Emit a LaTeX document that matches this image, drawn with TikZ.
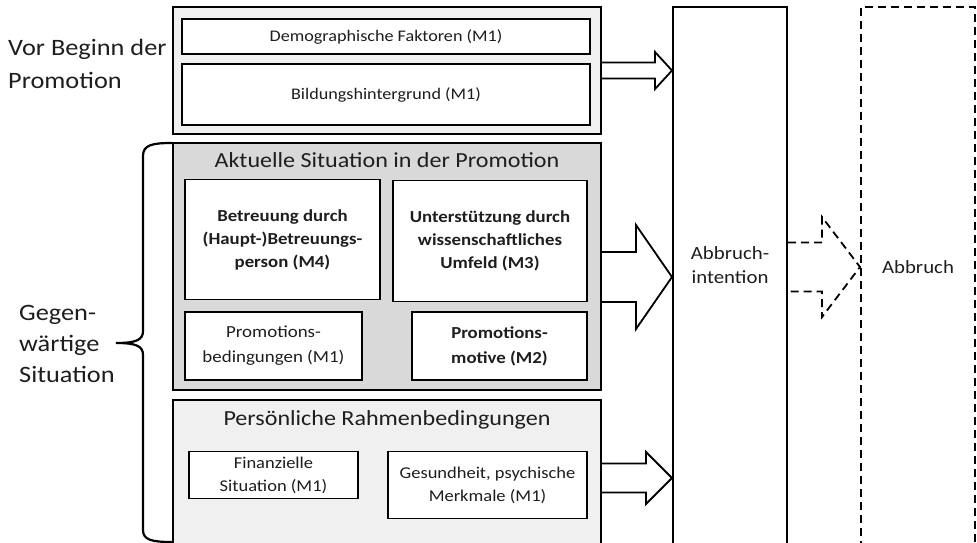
\documentclass[tikz,border=0pt]{standalone}
\usepackage{fontspec}
\setmainfont{Carlito}[FakeStretch=1.12]
\usetikzlibrary{calc}
\definecolor{txt}{HTML}{1E1E1E}
\definecolor{lightfill}{HTML}{F0F0F0}
\definecolor{midfill}{HTML}{D9D9D9}
\newcommand\fs[2]{\fontsize{#1}{#2}\selectfont}
\tikzset{
  outerbox/.style={draw, line width=2.2pt, inner sep=0pt},
  innerbox/.style={draw, line width=1.3pt, fill=white, inner sep=0pt, align=center, text=txt,
    font=\fs{16.9}{24}},
  boldbox/.style={innerbox, font=\fs{16.8}{23}\bfseries},
  sidelabel/.style={anchor=west, align=left, text=txt, inner sep=0pt},
  titlelabel/.style={text=txt, inner sep=0pt, font=\fs{21.5}{24}},
  biglabel/.style={text=txt, align=center, font=\fs{18.6}{24}},
  blockarrow/.style={draw, line width=1.8pt, fill=white, line join=miter},
  dashedarrow/.style={draw, line width=1.8pt, fill=white, dash pattern=on 8pt off 5pt},
}
% #1 style, #2 from node, #3 to node, #4 dy, #5 shaft half, #6 head half, #7 head length
\newcommand\blockarr[7]{%
  \draw[#1] ($(#2.east)+(0,#4-#5)$) -- ($(#3.west|-#2.east)+(-#7,#4-#5)$)
    -- ($(#3.west|-#2.east)+(-#7,#4-#6)$) -- ($(#3.west|-#2.east)+(0,#4)$)
    -- ($(#3.west|-#2.east)+(-#7,#4+#6)$) -- ($(#3.west|-#2.east)+(-#7,#4+#5)$)
    -- ($(#2.east)+(0,#4+#5)$);}
\begin{document}
\begin{tikzpicture}[x=1pt,y=-1pt]
\useasboundingbox (0,0) rectangle (977,543);
\clip (0,0) rectangle (977,543);
\fill[white] (0,0) rectangle (977,543);

% left labels
\node[sidelabel, font=\fs{23.5}{33}] (vorlabel) at (8,64) {Vor Beginn der\\Promotion};
\node[sidelabel, font=\fs{23.5}{31}] (gegenlabel) at (19,344) {Gegen-\\wärtige\\Situation};

% brace
\draw[line width=2.2pt, line cap=round] (172,143) .. controls (152,143) and (143,145) .. (143,156)
  -- (143,331) .. controls (143,340) and (136,343) .. (116,343)
  .. controls (136,343) and (143,346) .. (143,355)
  -- (143,530) .. controls (143,540) and (152,542) .. (172,542);

% top group
\node[outerbox, fill=lightfill, minimum width=428pt, minimum height=127pt] (top) at (387,70.5) {};
\node[innerbox, font=\fs{16.2}{22}, minimum width=408pt, minimum height=35pt] (demo) at (386,36.5) {Demographische Faktoren (M1)};
\node[innerbox, font=\fs{16.2}{22}, minimum width=408pt, minimum height=61pt] (bild) at (386,94.5) {Bildungshintergrund (M1)};

% middle group
\node[outerbox, fill=midfill, minimum width=428pt, minimum height=247pt] (mid) at (387,266.5) {};
\node[titlelabel] (midtitle) at (387,160) {Aktuelle Situation in der Promotion};
\node[boldbox, minimum width=195pt, minimum height=120pt] (betr) at (282.5,239.5) {Betreuung durch\\(Haupt-)Betreuungs-\\person (M4)};
\node[boldbox, minimum width=194pt, minimum height=121pt] (unter) at (490,241) {Unterstützung durch\\wissenschaftliches\\Umfeld (M3)};
\node[innerbox, font=\fs{16.9}{25}, minimum width=177pt, minimum height=68pt] (pbed) at (273.5,346) {Promotions-\\bedingungen (M1)};
\node[boldbox, font=\fs{16.8}{25}\bfseries, minimum width=175pt, minimum height=68pt] (pmot) at (499.5,346) {Promotions-\\motive (M2)};

% bottom group
\node[outerbox, fill=lightfill, minimum width=428pt, minimum height=145pt] (bot) at (387,472.5) {};
\node[titlelabel] (bottitle) at (387,420) {Persönliche Rahmenbedingungen};
\node[innerbox, font=\fs{16.5}{23}, minimum width=169pt, minimum height=47pt] (fin) at (273.5,475) {Finanzielle\\Situation (M1)};
\node[innerbox, font=\fs{16.5}{23}, minimum width=199pt, minimum height=67pt] (ges) at (487.5,485) {Gesundheit, psychische\\Merkmale (M1)};

% intention and Abbruch boxes
\node[draw, line width=2pt, fill=white, minimum width=114pt, minimum height=538pt, inner sep=0pt] (intent) at (730,276) {};
\node[biglabel] (intentlabel) at (730,265) {Abbruch-\\intention};
\node[draw, line width=2pt, dash pattern=on 8pt off 5pt, minimum width=114pt, minimum height=538pt, inner sep=0pt] (abbr) at (918,276) {};
\node[biglabel] (abbrlabel) at (918,267) {Abbruch};

% arrows
\blockarr{blockarrow}{top}{intent}{0}{8}{18.5}{17}
\blockarr{blockarrow}{mid}{intent}{10.5}{25}{52}{36}
\blockarr{blockarrow}{bot}{intent}{5.5}{14.5}{26}{26}
\blockarr{dashedarrow}{intent}{abbr}{-9}{24.5}{50}{38}
\end{tikzpicture}
\end{document}
